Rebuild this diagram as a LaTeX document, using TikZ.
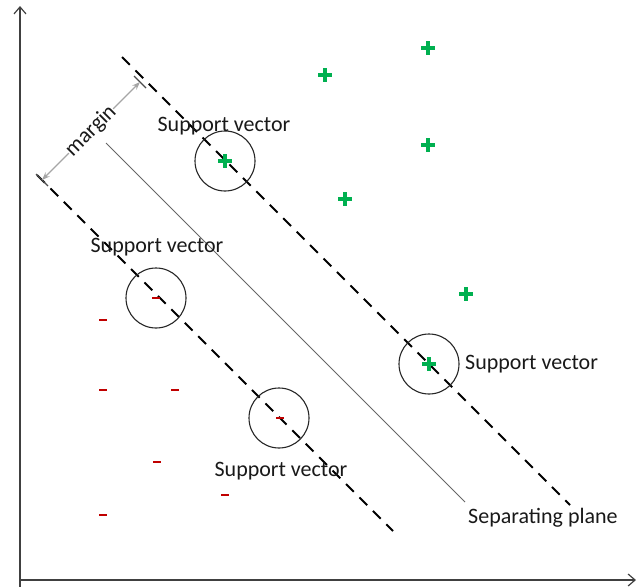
\documentclass[tikz,border=0pt]{standalone}
\usepackage{fontspec}
\setmainfont{Carlito}
\usetikzlibrary{arrows.meta}
\definecolor{plusgreen}{RGB}{0,176,80}
\definecolor{minusred}{RGB}{192,0,0}
\tikzset{
  lbl/.style={font=\fontsize{22}{26}\selectfont, text=black!90, inner sep=0pt},
  sv/.style={circle, draw=black!85, line width=1.1pt, minimum size=60pt, inner sep=0pt},
  margin line/.style={black, line width=1.8pt, dash pattern=on 11pt off 8pt},
  axis/.style={draw=black!75, line width=1.2pt, -{Straight Barb[length=7pt,width=12pt]}},
  plusmark/.style={plusgreen, line width=3.2pt},
  minusmark/.style={minusred, line width=2.6pt},
}
\newcommand{\plusat}[2]{\draw[plusmark] (#1-7,#2) -- (#1+7,#2) (#1,#2-7) -- (#1,#2+7);}
\newcommand{\minusat}[2]{\draw[minusmark] (#1-4,#2) -- (#1+4,#2);}
\begin{document}
\begin{tikzpicture}[x=1pt,y=-1pt]
\useasboundingbox (0,0) rectangle (638,587);
% axes
\coordinate (o) at (20,580);
\coordinate (ytop) at (20,6);
\coordinate (xend) at (636,580);
\coordinate (ybot) at (20,587);
\draw[axis] (ybot) -- (ytop);
\draw[axis] (o) -- (xend);
% lines
\coordinate (u1) at (122,57);
\coordinate (u2) at (570,505);
\coordinate (l1) at (37,175);
\coordinate (l2) at (393,531);
\coordinate (s1) at (106,143);
\coordinate (s2) at (465,502);
\draw[margin line] (u1) -- (u2);
\draw[margin line] (l1) -- (l2);
\draw[black!60, line width=1pt] (s1) -- (s2);
% margin arrow
\coordinate (ma) at (42,180);
\coordinate (mb) at (140,82);
\draw[black!70, line width=1.4pt] (ma) ++(-6,-6) -- ++(12,12);
\draw[black!70, line width=1.4pt] (mb) ++(-6,-6) -- ++(12,12);
\draw[black!35, line width=1.2pt, {Stealth[length=8pt,width=6pt]}-{Stealth[length=8pt,width=6pt]}] (ma) -- (mb)
  node[midway, sloped, fill=white, inner sep=1pt, lbl] {margin};
% support vectors
\plusat{225}{161}
\plusat{429}{364}
\minusat{156}{298}
\minusat{280}{418}
\node[sv] (c1) at (225,161) {};
\node[sv] (c2) at (156,298) {};
\node[sv] (c3) at (279,418) {};
\node[sv] (c4) at (429,364) {};
% labels
\node[lbl] (t1) at (224,126) {Support vector};
\node[lbl] (t2) at (157,247) {Support vector};
\node[lbl] (t3) at (281,471) {Support vector};
\node[lbl, anchor=west] (t4) at (465,364) {Support vector};
\node[lbl, anchor=west] (t5) at (468,518) {Separating plane};
% plus
\plusat{428}{48}
\plusat{325}{75}
\plusat{428}{145}
\plusat{345}{199}
\plusat{466}{294}
% minus
\minusat{103}{320}
\minusat{103}{390}
\minusat{175}{390}
\minusat{157}{462}
\minusat{225}{495}
\minusat{103}{515}
\end{tikzpicture}
\end{document}
